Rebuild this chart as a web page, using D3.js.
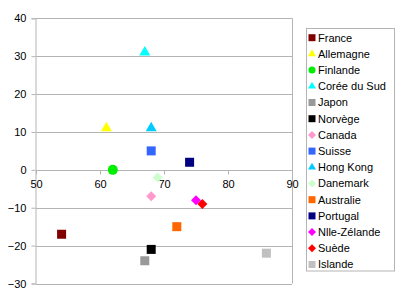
<!DOCTYPE html>
<html>
<head>
<meta charset="utf-8">
<script src="https://cdn.jsdelivr.net/npm/d3@7"></script>
<style>
  body { margin: 0; background: #fff; }
  text { font-family: "Liberation Sans", Arial, sans-serif; font-size: 11px; fill: #000; }
</style>
</head>
<body>
<div id="chart"></div>
<script>
// series data, one point per country
var countries = ["France", "Allemagne", "Finlande", "Corée du Sud", "Japon", "Norvège", "Canada", "Suisse",
                 "Hong Kong", "Danemark", "Australie", "Portugal", "Nlle-Zélande", "Suède", "Islande"];
var xValues = [54, 61, 62, 67, 67, 68, 68, 68, 68, 69, 72, 74, 75, 76, 86];
var yValues = [-17, 11, 0, 31, -24, -21, -7, 5, 11, -2, -15, 2, -8, -9, -22];
var shapes = ["square", "triangle", "circle", "triangle", "square", "square", "diamond", "square",
              "triangle", "diamond", "square", "square", "diamond", "diamond", "square"];
var colors = ["#800000", "#ffff00", "#00ee00", "#00ffff", "#999999", "#000000", "#ff99cc", "#3366ff",
              "#00ccff", "#ccffcc", "#ff6600", "#000080", "#ff00ff", "#ff0000", "#c0c0c0"];
var xTicks = [50, 60, 70, 80, 90];
var yTicks = [-30, -20, -10, 0, 10, 20, 30, 40];

var width = 400, height = 300;
var svg = d3.select("#chart").append("svg")
	.attr("width", width)
	.attr("height", height);

var x = d3.scaleLinear().domain([50, 90]).range([36, 292]);
var y = d3.scaleLinear().domain([-30, 40]).range([283.5, 18.3]);

var grid = "#b4b4b4";

// gridlines
svg.selectAll(".grid")
	.data(yTicks)
	.enter()
	.append("line")
	.attr("x1", x(50))
	.attr("x2", x(90))
	.attr("y1", function(d){ return Math.round(y(d)) + 0.5 })
	.attr("y2", function(d){ return Math.round(y(d)) + 0.5 })
	.attr("stroke", grid);

// right frame
svg.append("line")
	.attr("x1", Math.round(x(90)) + 0.5).attr("x2", Math.round(x(90)) + 0.5)
	.attr("y1", y(40)).attr("y2", y(-30))
	.attr("stroke", grid);

// y axis
var yAxis = svg.append("g")
	.attr("transform", "translate(" + (Math.round(x(50)) - 0.5) + ",0)")
	.call(d3.axisLeft(y).tickValues(yTicks).tickSize(4).tickPadding(5).tickFormat(d3.format("d")));

// x axis crosses at y = 0
var xAxis = svg.append("g")
	.attr("transform", "translate(0," + (Math.round(y(0)) + 0.5) + ")")
	.call(d3.axisBottom(x).tickValues(xTicks).tickSize(4).tickPadding(6).tickFormat(d3.format("d")));

[yAxis, xAxis].forEach(function(g) {
	g.select(".domain").attr("stroke", grid);
	g.selectAll(".tick line").attr("stroke", grid);
	g.selectAll("text")
		.style("font-family", "'Liberation Sans', Arial, sans-serif")
		.style("font-size", "11px")
		.attr("fill", "#000");
});
xAxis.select(".domain").attr("d", "M" + x(50) + ",0H" + x(90));

// marker path builder
function marker(shape, s) {
	if (shape == "square") return d3.symbol().type(d3.symbolSquare).size(s * s)();
	if (shape == "circle") return d3.symbol().type(d3.symbolCircle).size(Math.PI * s * s / 4)();
	if (shape == "triangle") return d3.symbol().type(d3.symbolTriangle).size(Math.sqrt(3) / 4 * s * s)();
	// diamond = rotated square
	var h = s / 2;
	return "M0," + (-h) + "L" + h + ",0L0," + h + "L" + (-h) + ",0Z";
}

var sizes = { square: 9, circle: 10, triangle: 11, diamond: 10 };
var legendSizes = { square: 7, circle: 7, triangle: 8, diamond: 8 };

var points = countries.map(function(c, i) {
	return { name: c, x: xValues[i], y: yValues[i], shape: shapes[i], color: colors[i] };
});

svg.selectAll(".pt")
	.data(points)
	.enter()
	.append("path")
	.attr("class", "pt")
	.attr("transform", function(d){ return "translate(" + x(d.x) + "," + y(d.y) + ")" })
	.attr("d", function(d){ return marker(d.shape, sizes[d.shape]) })
	.attr("fill", function(d){ return d.color });

// legend
var lg = svg.append("g");
lg.append("rect")
	.attr("x", 306.5).attr("y", 28.5)
	.attr("width", 88).attr("height", 242.5)
	.attr("fill", "#fff")
	.attr("stroke", grid);

var items = lg.selectAll(".item")
	.data(points)
	.enter()
	.append("g")
	.attr("transform", function(d, i){ return "translate(312," + (37.7 + i * 16.2) + ")" });

items.append("path")
	.attr("d", function(d){ return marker(d.shape, legendSizes[d.shape]) })
	.attr("fill", function(d){ return d.color });

items.append("text")
	.attr("x", 6)
	.attr("dy", "0.35em")
	.text(function(d){ return d.name });
</script>
</body>
</html>
